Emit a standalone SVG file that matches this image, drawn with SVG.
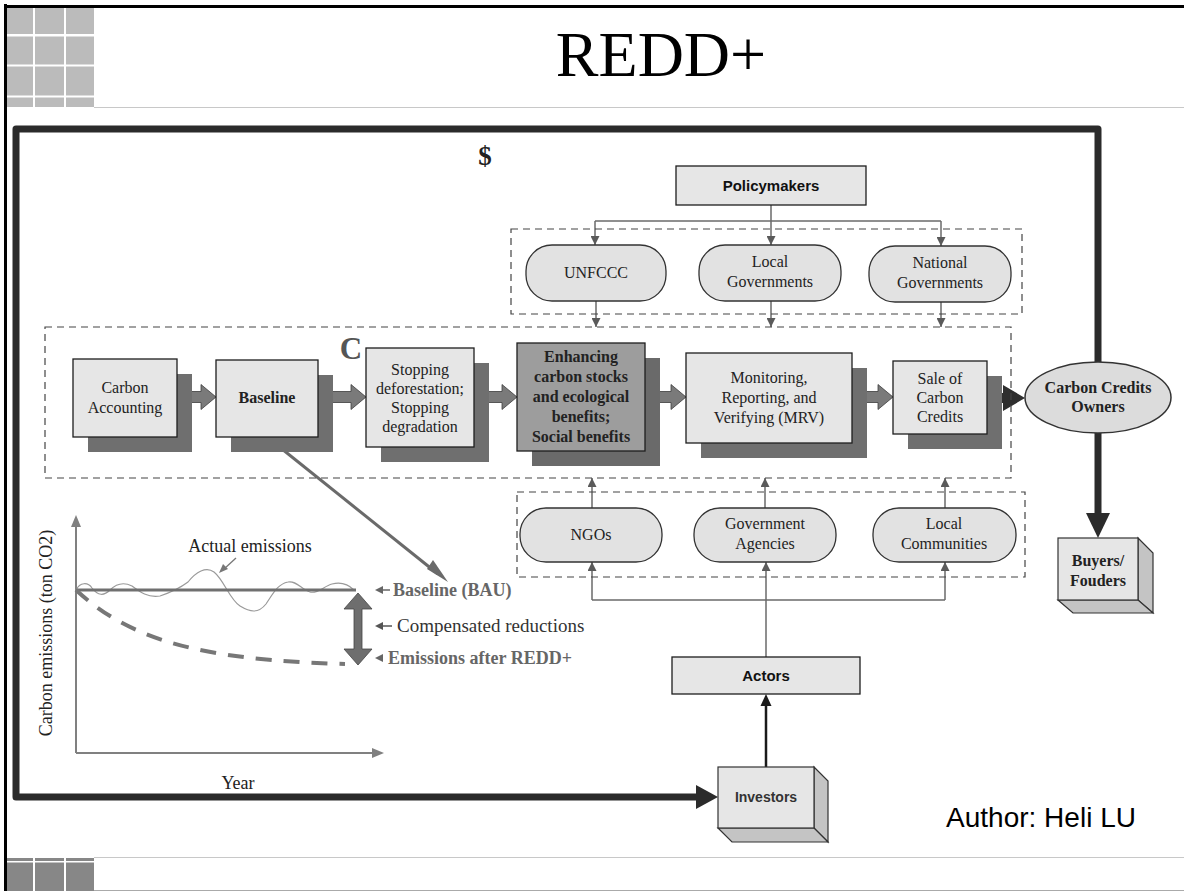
<svg xmlns="http://www.w3.org/2000/svg" width="1184" height="891" viewBox="0 0 1184 891">
<defs>
<style>
.serif{font-family:"Liberation Serif","Times New Roman",serif}
.sans{font-family:"Liberation Sans",Arial,sans-serif}
.box{fill:#e6e6e6;stroke:#1e1e1e;stroke-width:1.3}
.shadow{fill:#6f6f6f}
.pill{fill:#e2e2e2;stroke:#333;stroke-width:1.3}
.dash{fill:none;stroke:#444;stroke-width:1.2;stroke-dasharray:7 5}
.thin{fill:none;stroke:#6a6a6a;stroke-width:1.5}
.blk{fill:#7a7a7a;stroke:#3c3c3c;stroke-width:0.8}
.lbl{font-size:16px;fill:#222;text-anchor:middle}
.bold{font-weight:bold}
.sq1{fill:#bbbbbb}
.sq2{fill:#878787}
.face{fill:#e6e6e6;stroke:#333;stroke-width:1.2}
.side{fill:#c4c4c4;stroke:#333;stroke-width:1.2}
</style>
<marker id="ah" markerUnits="userSpaceOnUse" markerWidth="9" markerHeight="9" viewBox="0 0 10 10" refX="10" refY="5" orient="auto"><path d="M0,0 L10,5 L0,10 z" fill="#5a5a5a"/></marker>
</defs>
<rect width="1184" height="891" fill="#fff"/>
<g id="frame">
<rect class="sq1" x="7" y="8" width="26" height="26"/><rect class="sq1" x="35" y="8" width="29" height="26"/><rect class="sq1" x="66" y="8" width="28" height="26"/>
<rect class="sq1" x="7" y="36.5" width="26" height="28"/><rect class="sq1" x="35" y="36.5" width="29" height="28"/><rect class="sq1" x="66" y="36.5" width="28" height="28"/>
<rect class="sq1" x="7" y="66.5" width="26" height="29"/><rect class="sq1" x="35" y="66.5" width="29" height="29"/><rect class="sq1" x="66" y="66.5" width="28" height="29"/>
<rect class="sq1" x="7" y="97.5" width="26" height="9.5"/><rect class="sq1" x="35" y="97.5" width="29" height="9.5"/><rect class="sq1" x="66" y="97.5" width="28" height="9.5"/>
<rect class="sq2" x="7" y="858" width="26" height="3"/><rect class="sq2" x="35" y="858" width="29" height="3"/><rect class="sq2" x="66" y="858" width="28" height="3"/>
<rect class="sq2" x="7" y="862.5" width="26" height="28.5"/><rect class="sq2" x="35" y="862.5" width="29" height="28.5"/><rect class="sq2" x="66" y="862.5" width="28" height="28.5"/>
<line x1="5.5" y1="4" x2="5.5" y2="891" stroke="#000" stroke-width="3"/>
<line x1="4" y1="6.5" x2="1184" y2="6.5" stroke="#000" stroke-width="3"/>
<line x1="94" y1="107.5" x2="1184" y2="107.5" stroke="#c8c8c8"/>
<line x1="94" y1="857.5" x2="1184" y2="857.5" stroke="#c8c8c8"/>
<line x1="94" y1="890.5" x2="1184" y2="890.5" stroke="#aaa"/>
</g>
<text class="serif" x="661" y="76" font-size="64" text-anchor="middle" fill="#000">REDD+</text>

<g id="connectors">
<path d="M1098,362 V129 H16 V797 H700" fill="none" stroke="#2b2b2b" stroke-width="7" stroke-linejoin="round"/>
<polygon points="696,785 718,797 696,809" fill="#2b2b2b"/>
<line x1="1098" y1="433" x2="1098" y2="515" stroke="#2b2b2b" stroke-width="7"/>
<polygon points="1086,513 1110,513 1098,538" fill="#2b2b2b"/>
<polyline class="thin" points="771,205 771,221"/>
<polyline class="thin" points="595,221 941,221"/>
<line class="thin" x1="595" y1="221" x2="595" y2="245" marker-end="url(#ah)"/>
<line class="thin" x1="771" y1="221" x2="771" y2="245" marker-end="url(#ah)"/>
<line class="thin" x1="941" y1="221" x2="941" y2="246" marker-end="url(#ah)"/>
<line class="thin" x1="596" y1="300" x2="596" y2="327" marker-end="url(#ah)"/>
<line class="thin" x1="771" y1="301" x2="771" y2="327" marker-end="url(#ah)"/>
<line class="thin" x1="941" y1="302" x2="941" y2="327" marker-end="url(#ah)"/>
<line class="thin" x1="592" y1="508" x2="592" y2="478" marker-end="url(#ah)"/>
<line class="thin" x1="765" y1="508" x2="765" y2="478" marker-end="url(#ah)"/>
<line class="thin" x1="945" y1="508" x2="945" y2="478" marker-end="url(#ah)"/>
<polyline class="thin" points="592,600 945,600"/>
<line class="thin" x1="592" y1="600" x2="592" y2="562" marker-end="url(#ah)"/>
<line class="thin" x1="945" y1="600" x2="945" y2="562" marker-end="url(#ah)"/>
<line class="thin" x1="766" y1="657" x2="766" y2="562" marker-end="url(#ah)"/>
<line x1="766" y1="767" x2="766" y2="704" stroke="#1a1a1a" stroke-width="2.5"/>
<polygon points="760.5,706 766,694 771.5,706" fill="#1a1a1a"/>
<polygon class="blk" points="177,391.5 201,391.5 201,384.5 216,397 201,409.5 201,402.5 177,402.5"/>
<polygon class="blk" points="318,391.5 351,391.5 351,384.5 366,397 351,409.5 351,402.5 318,402.5"/>
<polygon class="blk" points="474,391.5 502,391.5 502,384.5 517,397 502,409.5 502,402.5 474,402.5"/>
<polygon class="blk" points="645,391.5 671,391.5 671,384.5 686,397 671,409.5 671,402.5 645,402.5"/>
<polygon class="blk" points="852,391.5 878,391.5 878,384.5 893,397 878,409.5 878,402.5 852,402.5"/>
<polygon points="984,393 1003,393 1003,385 1025,398 1003,411 1003,403 984,403" fill="#2e2e2e"/>
<line x1="267" y1="437" x2="438" y2="574" stroke="#6a6a6a" stroke-width="3"/>
</g>

<g id="groups">
<rect class="dash" x="511" y="229" width="511" height="85"/>
<rect class="dash" x="45" y="327" width="966" height="151"/>
<rect class="dash" x="517" y="492" width="508" height="85"/>
</g>

<text class="serif" x="485" y="165" font-size="27" font-weight="bold" text-anchor="middle" fill="#222">$</text>
<text class="serif" x="351" y="359" font-size="31" font-weight="bold" text-anchor="middle" fill="#555">C</text>

<g id="policymakers"><rect class="box" x="676" y="166" width="190" height="39"/><text class="sans bold" x="771" y="191" font-size="15" text-anchor="middle" fill="#111">Policymakers</text></g>
<g id="unfccc"><rect class="pill" x="526" y="245" width="140" height="56" rx="26"/><text class="serif lbl" x="596" y="278">UNFCCC</text></g>
<g id="local-gov"><rect class="pill" x="699" y="245" width="142" height="56" rx="26"/><text class="serif lbl" x="770" y="267">Local</text><text class="serif lbl" x="770" y="287">Governments</text></g>
<g id="national-gov"><rect class="pill" x="869" y="246" width="142" height="56" rx="26"/><text class="serif lbl" x="940" y="268">National</text><text class="serif lbl" x="940" y="288">Governments</text></g>

<g id="carbon-accounting"><rect class="shadow" x="88" y="374" width="104" height="78"/><rect class="box" x="73" y="359" width="104" height="78"/><text class="serif lbl" x="125" y="393">Carbon</text><text class="serif lbl" x="125" y="413">Accounting</text></g>
<g id="baseline"><rect class="shadow" x="231" y="375" width="102" height="77"/><rect class="box" x="216" y="360" width="102" height="77"/><text class="serif lbl bold" x="267" y="403">Baseline</text></g>
<g id="stopping"><rect class="shadow" x="381" y="363" width="108" height="99"/><rect class="box" x="366" y="348" width="108" height="99"/><text class="serif lbl" x="420" y="375">Stopping</text><text class="serif lbl" x="420" y="394">deforestation;</text><text class="serif lbl" x="420" y="413">Stopping</text><text class="serif lbl" x="420" y="432">degradation</text></g>
<g id="enhancing"><rect x="532" y="358" width="128" height="108" fill="#6a6a6a"/><rect x="517" y="343" width="128" height="108" fill="#9d9d9d" stroke="#1e1e1e" stroke-width="1.3"/><text class="serif lbl bold" x="581" y="362" fill="#111">Enhancing</text><text class="serif lbl bold" x="581" y="382" fill="#111">carbon stocks</text><text class="serif lbl bold" x="581" y="402" fill="#111">and ecological</text><text class="serif lbl bold" x="581" y="422" fill="#111">benefits;</text><text class="serif lbl bold" x="581" y="442" fill="#111">Social benefits</text></g>
<g id="mrv"><rect class="shadow" x="701" y="368" width="166" height="90"/><rect class="box" x="686" y="353" width="166" height="90"/><text class="serif lbl" x="769" y="383">Monitoring,</text><text class="serif lbl" x="769" y="403">Reporting, and</text><text class="serif lbl" x="769" y="423">Verifying (MRV)</text></g>
<g id="sale"><rect class="shadow" x="908" y="376" width="94" height="73"/><rect class="box" x="893" y="361" width="94" height="73"/><text class="serif lbl" x="940" y="384">Sale of</text><text class="serif lbl" x="940" y="403">Carbon</text><text class="serif lbl" x="940" y="422">Credits</text></g>

<g id="owners"><ellipse cx="1098" cy="397.5" rx="73" ry="35.5" fill="#dcdcdc" stroke="#333" stroke-width="1.5"/><text class="serif lbl bold" x="1098" y="393" fill="#333">Carbon Credits</text><text class="serif lbl bold" x="1098" y="412" fill="#333">Owners</text></g>
<g id="buyers"><polygon class="side" points="1138,538 1153,553 1153,613 1138,600"/><polygon class="side" points="1058,600 1138,600 1153,613 1073,613" fill="#b8b8b8"/><rect class="face" x="1058" y="538" width="80" height="62"/><text class="serif lbl bold" x="1098" y="566" font-size="15" fill="#333">Buyers/</text><text class="serif lbl bold" x="1098" y="586" font-size="15" fill="#333">Fouders</text></g>

<g id="ngos"><rect class="pill" x="520" y="508" width="142" height="54" rx="26"/><text class="serif lbl" x="591" y="540">NGOs</text></g>
<g id="gov-agencies"><rect class="pill" x="694" y="508" width="142" height="54" rx="26"/><text class="serif lbl" x="765" y="529">Government</text><text class="serif lbl" x="765" y="549">Agencies</text></g>
<g id="local-comm"><rect class="pill" x="873" y="508" width="143" height="54" rx="26"/><text class="serif lbl" x="944" y="529">Local</text><text class="serif lbl" x="944" y="549">Communities</text></g>

<g id="actors"><rect class="box" x="672" y="657" width="188" height="37"/><text class="sans bold" x="766" y="681" font-size="15" text-anchor="middle" fill="#111">Actors</text></g>
<g id="investors"><polygon class="side" points="814,767 828,781 828,842 814,828"/><polygon class="side" points="718,828 814,828 828,842 732,842" fill="#b8b8b8"/><rect class="face" x="718" y="767" width="96" height="61"/><text class="sans bold" x="766" y="802" font-size="14" text-anchor="middle" fill="#333">Investors</text></g>

<g id="chart">
<line x1="76" y1="753" x2="76" y2="525" stroke="#808080" stroke-width="2"/>
<polygon points="71,527 76,515 81,527" fill="#808080"/>
<line x1="76" y1="753" x2="374" y2="753" stroke="#808080" stroke-width="2"/>
<polygon points="372,748 384,753 372,758" fill="#808080"/>
<path d="M76,590 C80,582 88,582 92,588 C98,596 104,596 110,590 C116,584 124,582 132,586 C140,592 148,598 160,596 C172,592 180,588 188,582 C196,572 206,566 214,572 C224,580 230,600 240,606 C250,612 258,614 266,604 C274,592 278,584 288,582 C296,580 302,590 310,592 C318,594 324,586 332,584 C340,582 348,584 354,590" fill="none" stroke="#9a9a9a" stroke-width="1.2"/>
<line x1="76" y1="590" x2="356" y2="590" stroke="#707070" stroke-width="3"/>
<path d="M76,590 C130,640 200,660 345,664" fill="none" stroke="#777" stroke-width="4" stroke-dasharray="16 12"/>
<polygon points="358,593 372,609 362,609 362,649 372,649 358,665 344,649 354,649 354,609 344,609" fill="#6e6e6e" stroke="#444" stroke-width="0.8"/>
<polygon points="427,569 448,582 433,560" fill="#6a6a6a"/>
<line x1="236" y1="558" x2="224" y2="569" stroke="#777" stroke-width="1.3"/>
<polygon points="219,573 223,564 228,569" fill="#777"/>
<text class="serif" x="250" y="552" font-size="18" text-anchor="middle" fill="#222">Actual emissions</text>
<polygon points="375,590 383,586 383,594" fill="#666"/><line x1="383" y1="590" x2="390" y2="590" stroke="#666" stroke-width="1.5"/>
<text class="serif bold" x="393" y="596" font-size="18" fill="#666">Baseline (BAU)</text>
<polygon points="375,626 383,622 383,630" fill="#555"/><line x1="383" y1="626" x2="392" y2="626" stroke="#555" stroke-width="1.5"/>
<text class="serif" x="397" y="632" font-size="19" fill="#333">Compensated reductions</text>
<polygon points="375,658 383,654 383,662" fill="#666"/>
<text class="serif bold" x="388" y="664" font-size="18" fill="#666">Emissions after REDD+</text>
<text class="serif" x="238" y="789" font-size="18" text-anchor="middle" fill="#222">Year</text>
<text class="serif" transform="translate(52,633) rotate(-90)" font-size="18" text-anchor="middle" fill="#222">Carbon emissions (ton CO2)</text>
</g>

<text class="sans" x="1041" y="827" font-size="28" text-anchor="middle" fill="#000">Author: Heli LU</text>
</svg>
